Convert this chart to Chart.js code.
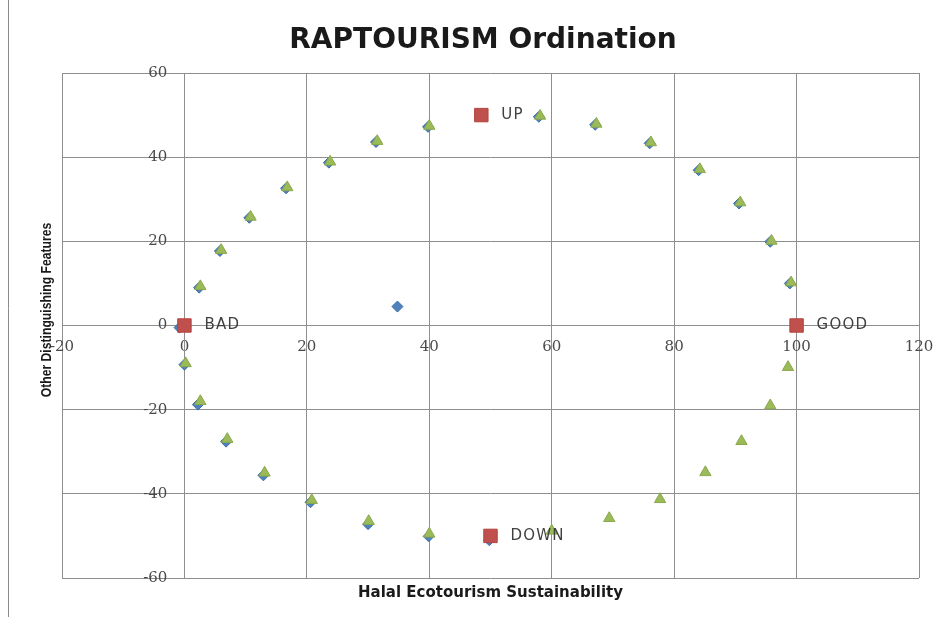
<!DOCTYPE html>
<html>
<head>
<meta charset="utf-8">
<script src="https://cdn.jsdelivr.net/npm/chart.js@4/dist/chart.umd.min.js"></script>
<style>
  html, body { margin: 0; padding: 0; background: #ffffff; }
  #wrap { width: 943px; height: 617px; }
</style>
</head>
<body>
<div id="wrap"><canvas id="c" width="943" height="617"></canvas></div>
<script>
// ---- data ----
const chartTitle = 'RAPTOURISM Ordination';
const xAxisTitle = 'Halal Ecotourism Sustainability';
const yAxisTitle = 'Other Distinguishing Features';

// blue diamonds (series 1)
const blueX = [34.8, -0.8, 0.0, 2.2, 6.8, 12.9, 20.6, 30.0, 39.9, 49.8,
               2.4, 5.8, 10.6, 16.6, 23.6, 31.3, 39.8, 57.9, 67.1, 76.0, 84.0, 90.6, 95.7, 98.9];
const blueY = [4.5, -0.5, -9.3, -18.8, -27.6, -35.6, -42.0, -47.2, -50.1, -51.0,
               9.0, 17.7, 25.6, 32.6, 38.7, 43.6, 47.2, 49.6, 47.7, 43.3, 36.9, 29.0, 19.9, 10.0];

// red squares: reference points
const refNames = ['BAD', 'GOOD', 'UP', 'DOWN'];
const refX = [0, 100, 48.5, 50];
const refY = [0, 0, 50, -50];

// green triangles (series 3)
const greenX = [0.2, 2.6, 7.0, 13.1, 20.8, 30.1, 40.0,
                60.0, 69.4, 77.7, 85.1, 91.0, 95.7, 98.6,
                2.6, 6.0, 10.8, 16.8, 23.8, 31.5, 40.0, 58.1, 67.3, 76.2, 84.2, 90.8, 95.9, 99.1];
const greenY = [-9.0, -18.0, -27.0, -35.0, -41.5, -46.5, -49.5,
                -48.8, -45.8, -41.3, -34.9, -27.5, -19.0, -9.9,
                9.3, 17.9, 25.8, 32.8, 38.9, 43.8, 47.4, 49.8, 47.9, 43.5, 37.1, 29.2, 20.1, 10.2];

const xTicks = [-20, 0, 20, 40, 60, 80, 100, 120];
const yTicks = [-60, -40, -20, 0, 20, 40, 60];

function pts(xs, ys) { return xs.map((x, i) => ({ x: x, y: ys[i] })); }

const gridColor = '#8e8e8e';
const tickColor = '#4a4a4a';
const tickFont = { family: '"DejaVu Serif"', size: 15 };

const decorPlugin = {
  id: 'decor',
  beforeDraw(chart) {
    const ctx = chart.ctx;
    ctx.save();
    ctx.fillStyle = '#ffffff';
    ctx.fillRect(0, 0, chart.width, chart.height);
    ctx.strokeStyle = '#8a8a8a';
    ctx.lineWidth = 1;
    ctx.beginPath();
    ctx.moveTo(8.5, 0);
    ctx.lineTo(8.5, chart.height);
    ctx.stroke();
    ctx.restore();
  },
  afterDraw(chart) {
    const ctx = chart.ctx;
    const area = chart.chartArea;
    ctx.save();
    ctx.fillStyle = '#1a1a1a';
    // chart title
    ctx.textAlign = 'center';
    ctx.textBaseline = 'alphabetic';
    ctx.font = 'bold 28px "DejaVu Sans"';
    ctx.fillText(chartTitle, 483, 48);
    // axis titles
    ctx.textBaseline = 'middle';
    ctx.font = 'bold 15px "DejaVu Sans"';
    ctx.fillText(xAxisTitle, (area.left + area.right) / 2, area.bottom + 15);
    ctx.translate(47, 310);
    ctx.rotate(-Math.PI / 2);
    ctx.scale(0.87, 1);
    ctx.font = 'bold 14px "Liberation Sans"';
    ctx.fillText(yAxisTitle, 0, 0);
    ctx.restore();

    // labels for reference points
    const meta = chart.getDatasetMeta(1);
    ctx.save();
    ctx.fillStyle = '#404040';
    ctx.font = '15px "DejaVu Sans"';
    try { ctx.letterSpacing = '1.2px'; } catch (e) {}
    ctx.textAlign = 'left';
    ctx.textBaseline = 'middle';
    meta.data.forEach((el, i) => {
      ctx.fillText(refNames[i], el.x + 20, el.y);
    });
    ctx.restore();
  }
};

new Chart(document.getElementById('c'), {
  type: 'scatter',
  data: {
    datasets: [
      {
        label: 'Series 1',
        data: pts(blueX, blueY),
        pointStyle: 'rectRot',
        pointRadius: 5.5,
        backgroundColor: '#4F81BD',
        borderColor: '#3d6ea8',
        borderWidth: 1,
        order: 3
      },
      {
        label: 'References',
        data: pts(refX, refY),
        pointStyle: 'rect',
        pointRadius: 9.5,
        backgroundColor: '#C0504D',
        borderColor: '#b4443f',
        borderWidth: 1,
        order: 2
      },
      {
        label: 'Series 3',
        data: pts(greenX, greenY),
        pointStyle: 'triangle',
        pointRadius: 6.5,
        backgroundColor: '#9BBB59',
        borderColor: '#8aa84c',
        borderWidth: 1,
        order: 1
      }
    ]
  },
  options: {
    responsive: false,
    animation: false,
    events: [],
    layout: { padding: { left: 62, right: 24, top: 73, bottom: 39 } },
    plugins: {
      legend: { display: false },
      tooltip: { enabled: false },
      title: { display: false }
    },
    scales: {
      x: {
        type: 'linear',
        min: -20, max: 120,
        position: { y: 0 },
        afterBuildTicks: (s) => { s.ticks = xTicks.map(v => ({ value: v })); },
        afterFit: (s) => { s.paddingLeft = 0; s.paddingRight = 0; },
        grid: { color: gridColor, lineWidth: 1, drawTicks: false },
        border: { display: true, color: gridColor },
        ticks: { color: tickColor, font: tickFont, padding: 13, maxRotation: 0 }
      },
      y: {
        type: 'linear',
        min: -60, max: 60,
        position: { x: 0 },
        afterBuildTicks: (s) => { s.ticks = yTicks.map(v => ({ value: v })); },
        grid: { color: gridColor, lineWidth: 1, drawTicks: false },
        border: { display: true, color: gridColor },
        ticks: {
          color: tickColor, font: tickFont,
          // trailing figure + en space keeps the labels clear of the axis line
          callback: (v) => String(v) + '\u2007\u2002'
        }
      }
    }
  },
  plugins: [decorPlugin]
});
</script>
</body>
</html>
